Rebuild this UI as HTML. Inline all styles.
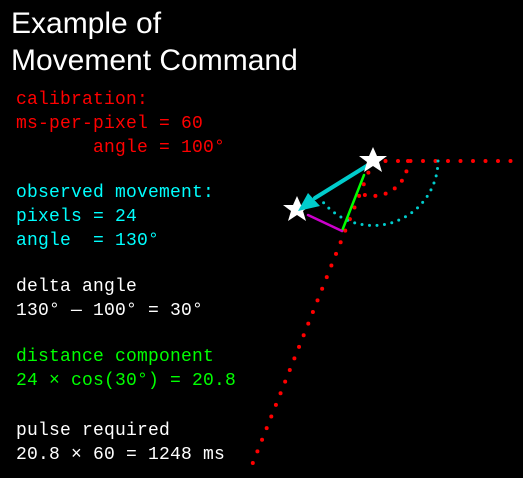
<!DOCTYPE html>
<html><head><style>
body{margin:0;background:#000;width:523px;height:478px;overflow:hidden;position:relative}
.t{position:absolute;left:11px;color:#fff;font:30px "Liberation Sans",sans-serif;white-space:pre;line-height:1}
.m{position:absolute;left:16px;font:18px "Liberation Mono",monospace;letter-spacing:0.2px;white-space:pre;line-height:1}
.r{color:#f00}.c{color:#0ff}.w{color:#fff}.g{color:#0f0}
svg{position:absolute;left:0;top:0}
</style></head><body>
<div class="t" style="top:9px">Example of</div>
<div class="t" style="top:46px">Movement Command</div>
<div class="m r" style="top:91px">calibration:</div>
<div class="m r" style="top:115px">ms-per-pixel = 60</div>
<div class="m r" style="top:139px">       angle = 100°</div>
<div class="m c" style="top:184px">observed movement:</div>
<div class="m c" style="top:208px">pixels = 24</div>
<div class="m c" style="top:232px">angle  = 130°</div>
<div class="m w" style="top:278px">delta angle</div>
<div class="m w" style="top:302px">130° — 100° = 30°</div>
<div class="m g" style="top:348px">distance component</div>
<div class="m g" style="top:372px">24 × cos(30°) = 20.8</div>
<div class="m w" style="top:422px">pulse required</div>
<div class="m w" style="top:446px">20.8 × 60 = 1248 ms</div>
<svg width="523" height="478">
<g fill="none" stroke-linecap="round">
<line x1="373" y1="161" x2="515" y2="161" stroke="#f00" stroke-width="4" stroke-dasharray="0 12.5"/>
<line x1="373" y1="161" x2="250" y2="470" stroke="#f00" stroke-width="4" stroke-dasharray="0 12.5"/>
<path d="M408 161 A35 35 0 0 1 360 193.5" stroke="#f00" stroke-width="4" stroke-dasharray="0 10.5"/>
<path d="M438 161 A65 65 0 0 1 323 202" stroke="#0cc" stroke-width="3" stroke-dasharray="0 7.5"/>
<line x1="364" y1="175" x2="342" y2="231" stroke="#0f0" stroke-width="2.5"/>
<line x1="308" y1="215" x2="342" y2="231" stroke="#c0c" stroke-width="2.5"/>
<line x1="373" y1="162" x2="315" y2="198" stroke="#0cc" stroke-width="4"/>
</g>
<polygon points="373,147 377,156 387,156 379,162 382,172 373,166 364,172 367,162 359,156 369,156" fill="#fff"/>
<polygon points="297,196 301,205 311,205 303,211 306,221 297,215 288,221 291,211 283,205 293,205" fill="#fff"/>
<polygon points="298,211 308,193 320,206" fill="#0cc"/>
</svg>
</body></html>
